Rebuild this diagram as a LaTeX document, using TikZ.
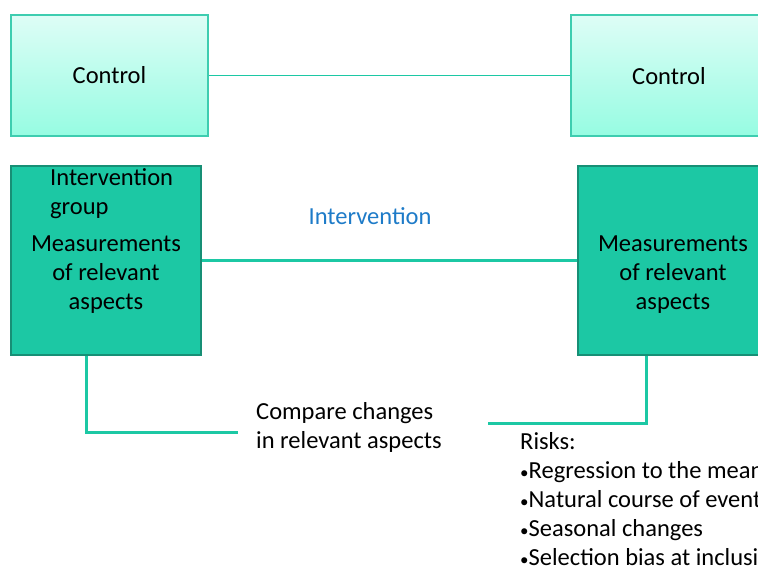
\documentclass[tikz,border=0pt]{standalone}
\usepackage{fontspec}
\setmainfont{Carlito}
\definecolor{lightfillA}{HTML}{DEFDF6}
\definecolor{lightfillB}{HTML}{96FCE2}
\definecolor{lightborder}{HTML}{3ECDB0}
\definecolor{darkfill}{HTML}{1CC8A4}
\definecolor{darkborder}{HTML}{178F75}
\definecolor{conncol}{HTML}{1CC8A4}
\definecolor{blueText}{HTML}{1E7BC8}
\newcommand{\bul}{{\fontsize{17}{29}\selectfont•}}
\begin{document}
\begin{tikzpicture}[x=1pt,y=-1pt,
  lightbox/.style={draw=lightborder,line width=1.5pt,top color=lightfillA,bottom color=lightfillB,minimum width=197pt,minimum height=121pt,inner sep=0pt},
  darkbox/.style={draw=darkborder,line width=2pt,fill=darkfill,minimum width=190pt,minimum height=189pt,inner sep=0pt},
  txt/.style={inner sep=0pt,font=\fontsize{24.5}{29}\selectfont},
  thinconn/.style={draw=conncol,line width=1.5pt},
  thickconn/.style={draw=conncol,line width=3pt}]
\useasboundingbox (0,0) rectangle (758,568);
\clip (0,0) rectangle (758,568);
% control boxes
\node[lightbox] (cl) at (109.5,75.5) {};
\node[lightbox] (cr) at (669.5,75.5) {};
\node[txt] (tcl) at (cl.center) {Control};
\node[txt] (tcr) at (669,76) {Control};
\draw[thinconn] (cl.east) -- (cr.west);
% intervention boxes
\node[darkbox] (il) at (106,260.5) {};
\node[darkbox] (ir) at (673,260.5) {};
\draw[thickconn] (il.east) -- (ir.west);
\node[txt,anchor=west,align=left] (ig) at (50,194) {Intervention\\group};
\node[txt,align=center] (ml) at (106,275) {Measurements\\of relevant\\aspects};
\node[txt,align=center] (mr) at (673,275) {Measurements\\of relevant\\aspects};
\node[txt,text=blueText] (iv) at (370,216) {Intervention};
% compare
\node[txt,anchor=west,align=left] (cmp) at (256,427.5) {Compare changes\\in relevant aspects};
\coordinate (cL) at (238,432);
\coordinate (cR) at (488,423);
\draw[thickconn] ([xshift=76pt]il.south west) |- (cL);
\draw[thickconn] ([xshift=69pt]ir.south west) |- (cR);
% risks
\node[txt,anchor=north west,align=left] (risks) at (520,432) {Risks:\\\bul Regression to the mean\\\bul Natural course of events\\\bul Seasonal changes\\\bul Selection bias at inclusion};
\end{tikzpicture}
\end{document}
